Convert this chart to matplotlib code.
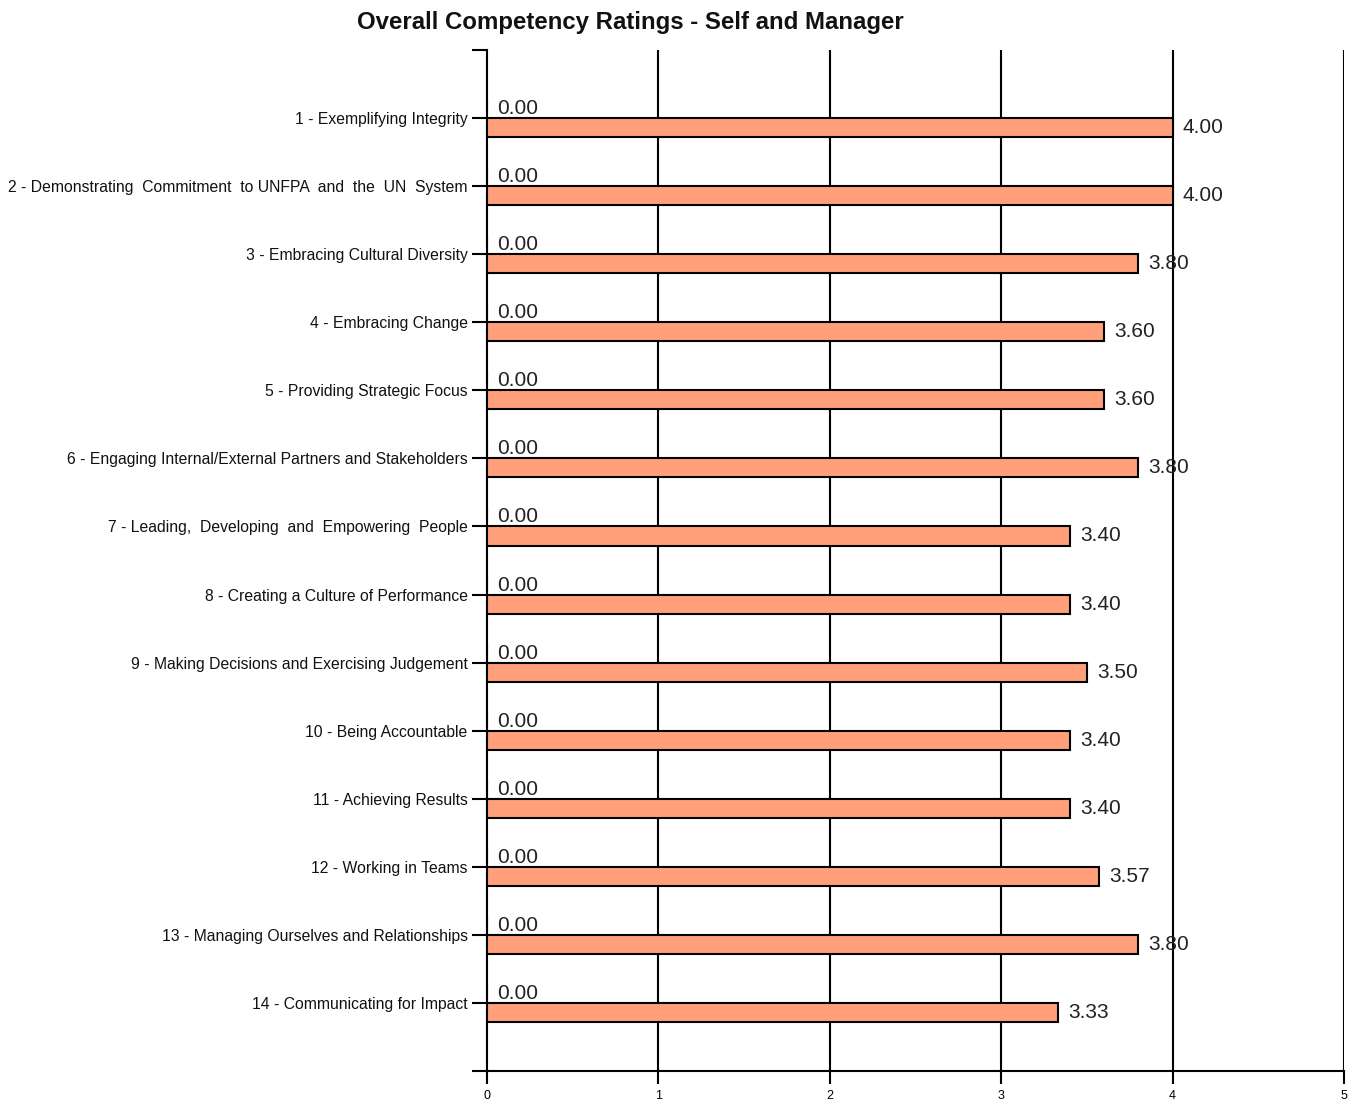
import numpy as np
import matplotlib.pyplot as plt

# competencies, top to bottom
competencies = [
    "1 - Exemplifying Integrity",
    "2 - Demonstrating  Commitment  to UNFPA  and  the  UN  System",
    "3 - Embracing Cultural Diversity",
    "4 - Embracing Change",
    "5 - Providing Strategic Focus",
    "6 - Engaging Internal/External Partners and Stakeholders",
    "7 - Leading,  Developing  and  Empowering  People",
    "8 - Creating a Culture of Performance",
    "9 - Making Decisions and Exercising Judgement",
    "10 - Being Accountable",
    "11 - Achieving Results",
    "12 - Working in Teams",
    "13 - Managing Ourselves and Relationships",
    "14 - Communicating for Impact",
]
self_scores = [0.00] * 14
manager_scores = [4.00, 4.00, 3.80, 3.60, 3.60, 3.80, 3.40, 3.40, 3.50, 3.40, 3.40, 3.57, 3.80, 3.33]
x_ticks = [0, 1, 2, 3, 4, 5]

plt.rcParams['font.family'] = ['Liberation Sans', 'DejaVu Sans']

fig = plt.figure(figsize=(13.59, 11.02), dpi=100)
ax = fig.add_axes([487 / 1359, 1 - 1071 / 1102, (1344 - 487) / 1359, (1071 - 50) / 1102])

pos = np.arange(1, len(competencies) + 1)
h = 0.28
bar_color = '#FFA07A'

ax.barh(pos - h / 2, self_scores, height=h, color=bar_color, edgecolor='black', linewidth=1.5, zorder=3)
ax.barh(pos + h / 2, manager_scores, height=h, color=bar_color, edgecolor='black', linewidth=1.5, zorder=3)

for p, s, m in zip(pos, self_scores, manager_scores):
    ax.annotate(f"{s:.2f}", (s, p - h / 2), xytext=(10, 0), textcoords='offset pixels',
                va='center', ha='left', fontsize=15, color='#222222', zorder=4)
    ax.annotate(f"{m:.2f}", (m, p + h / 2), xytext=(10, 0), textcoords='offset pixels',
                va='center', ha='left', fontsize=15, color='#222222', zorder=4)

ax.set_xlim(0, 5)
ax.set_ylim(15, 0)
ax.set_xticks(x_ticks)
ax.set_xticklabels([str(t) for t in x_ticks], fontsize=9)

# category ticks plus the two end ticks
ax.set_yticks(list(pos) + [0, 15])
ax.set_yticklabels(competencies + ['', ''], fontsize=11.3, color='#111111')
ax.tick_params(axis='y', length=11, width=1.5, pad=3)
ax.tick_params(axis='x', length=9, width=1.5, pad=5)

for xv in x_ticks[1:]:
    ax.axvline(xv, color='black', linewidth=1.5, zorder=1)

ax.spines['top'].set_visible(False)
ax.spines['right'].set_visible(False)
ax.spines['left'].set_linewidth(1.5)
ax.spines['bottom'].set_linewidth(1.5)

fig.text(630 / 1359, 1 - 22 / 1102, "Overall Competency Ratings - Self and Manager",
         ha='center', va='center', fontsize=17.3, fontweight='bold', color='#111111')

fig.savefig('out.png', dpi=100)
